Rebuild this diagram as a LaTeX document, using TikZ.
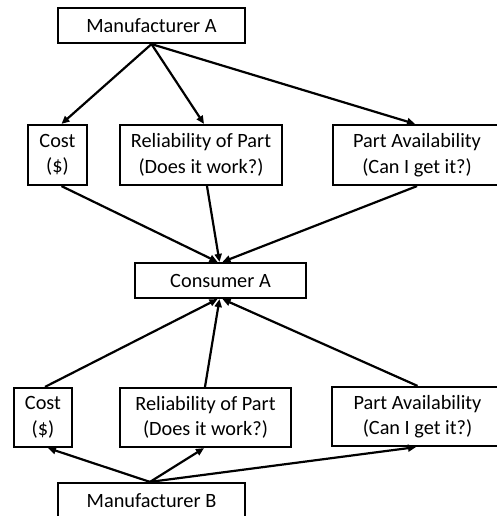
\documentclass[tikz,border=0pt]{standalone}
\usepackage{fontspec}
\setmainfont{Carlito}
\usetikzlibrary{arrows.meta}
\begin{document}
\begin{tikzpicture}[x=1pt,y=-1pt,
  box/.style={draw,line width=2.2pt,inner sep=0pt,align=center,
    font=\fontsize{20.3}{25.5}\selectfont},
  link/.style={line width=2.2pt,-{Triangle[length=8pt,width=7pt]}}]
\clip (0,0) rectangle (497,516);
\useasboundingbox (0,0) rectangle (497,516);
% upper half
\node[box,minimum width=187pt,minimum height=35pt] (ma) at (151.5,25.5) {Manufacturer A};
\node[box,minimum width=59pt,minimum height=60pt] (ca) at (57.5,155) {Cost\\(\$)};
\node[box,minimum width=162pt,minimum height=60pt] (ra) at (201,155) {Reliability of Part\\(Does it work?)};
\node[box,minimum width=168pt,minimum height=60pt] (pa) at (417,155) {Part Availability\\(Can I get it?)};
% consumer
\node[box,minimum width=171pt,minimum height=35pt] (cons) at (220.5,280.5) {Consumer A};
% lower half
\node[box,minimum width=58pt,minimum height=59pt] (cb) at (43,417.5) {Cost\\(\$)};
\node[box,minimum width=171pt,minimum height=59pt] (rb) at (205.5,417.5) {Reliability of Part\\(Does it work?)};
\node[box,minimum width=171pt,minimum height=59pt] (pb) at (417.5,416.5) {Part Availability\\(Can I get it?)};
\node[box,minimum width=187pt,minimum height=35pt] (mb) at (151.5,500.5) {Manufacturer B};
% manufacturer A to attributes
\draw[link] (ma.south) -- ([xshift=4pt]ca.north);
\draw[link] (ma.south) -- ([xshift=3pt]ra.north);
\draw[link] (ma.south) -- ([xshift=-2pt]pa.north);
% attributes to consumer
\draw[link] ([xshift=4pt]ca.south) -- ([xshift=-3pt]cons.north);
\draw[link] ([xshift=6pt]ra.south) -- ([xshift=-1pt]cons.north);
\draw[link] (pa.south) -- ([xshift=2pt]cons.north);
\draw[link] ([xshift=2pt]cb.north) -- ([xshift=-3pt]cons.south);
\draw[link] ([xshift=-0.5pt]rb.north) -- ([xshift=-1pt]cons.south);
\draw[link] (pb.north) -- ([xshift=2pt]cons.south);
% manufacturer B to attributes
\draw[link] ([xshift=-1.5pt]mb.north) -- ([xshift=5pt]cb.south);
\draw[link] ([xshift=-1.5pt]mb.north) -- ([xshift=-1.5pt]rb.south);
\draw[link] ([xshift=-1.5pt]mb.north) -- ([xshift=-1.5pt]pb.south);
\end{tikzpicture}
\end{document}
